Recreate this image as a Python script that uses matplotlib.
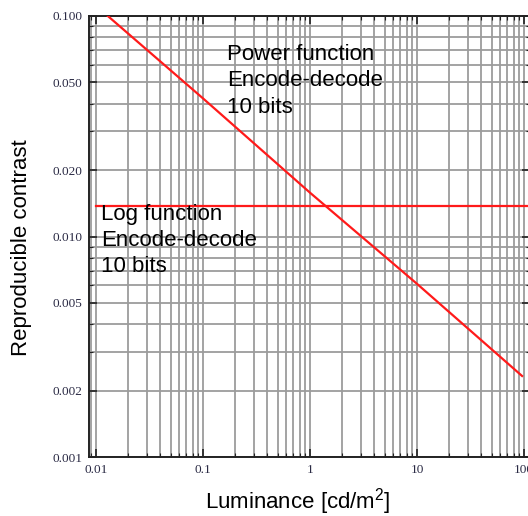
import matplotlib
matplotlib.use("Agg")
import matplotlib.pyplot as plt
from matplotlib.ticker import LogLocator, FixedLocator, NullFormatter

plt.rcParams["mathtext.fontset"] = "custom"
plt.rcParams["mathtext.rm"] = "Liberation Sans"

# reproducible contrast vs. luminance, 10-bit encode-decode
power_luminance = [0.0129, 0.1, 1.0, 10.0, 96.0]
power_contrast = [0.100, 0.0423, 0.0158, 0.0061, 0.00233]

log_luminance = [0.01, 120.0]
log_contrast = [0.0137, 0.0137]

x_ticks = [0.01, 0.1, 1, 10, 100]
x_ticklabels = ["0.01", "0.1", "1", "10", "100"]
y_ticks = [0.001, 0.002, 0.005, 0.01, 0.02, 0.05, 0.1]
y_ticklabels = ["0.001", "0.002", "0.005", "0.010", "0.020", "0.050", "0.100"]

W, H = 528, 516
fig = plt.figure(figsize=(W / 100, H / 100), dpi=100)
# axes run a little past the right edge of the figure
ax = fig.add_axes([89 / W, (H - 457) / H, (530 - 89) / W, (457 - 16) / H])

ax.set_xscale("log")
ax.set_yscale("log")
ax.set_xlim(0.0086, 113.8)
ax.set_ylim(0.001, 0.1)

grid_kw = dict(color="#9c9c9c", lw=1.3, zorder=1)
ax.xaxis.set_minor_locator(LogLocator(base=10, subs=range(2, 10)))
ax.yaxis.set_minor_locator(LogLocator(base=10, subs=range(2, 10)))
ax.grid(True, which="both", **grid_kw)

ax.xaxis.set_major_locator(FixedLocator(x_ticks))
ax.set_xticklabels(x_ticklabels)
ax.yaxis.set_major_locator(FixedLocator(y_ticks))
ax.set_yticklabels(y_ticklabels)
ax.xaxis.set_minor_formatter(NullFormatter())
ax.yaxis.set_minor_formatter(NullFormatter())

ax.tick_params(which="both", direction="in", top=True, right=True,
               color="#222222")
ax.tick_params(which="major", length=6, width=1.2)
ax.tick_params(which="minor", length=3, width=0.8)
for lab in ax.get_xticklabels() + ax.get_yticklabels():
    lab.set_family("Liberation Serif")
    lab.set_fontsize(9.5)
    lab.set_color("#2a2a44")
ax.tick_params(axis="y", pad=5)
ax.tick_params(axis="x", pad=5)

for s in ax.spines.values():
    s.set_linewidth(1.4)
    s.set_color("#222222")

ax.plot(power_luminance, power_contrast, color="#ff1a1a", lw=1.6, zorder=3)
ax.plot(log_luminance, log_contrast, color="#ff1a1a", lw=1.6, zorder=3)

txt_kw = dict(family="Liberation Sans", fontsize=16, color="black",
              va="top", ha="left", linespacing=1.33, zorder=4)
ax.text(0.168, 0.0746, "Power function\nEncode-decode\n10 bits", **txt_kw)
ax.text(0.0111, 0.0141, "Log function\nEncode-decode\n10 bits", **txt_kw)

fig.text(298 / W, 1 - 502 / H, r"Luminance [cd/m$\mathregular{^2}$]",
         family="Liberation Sans", fontsize=16, ha="center", va="center")
fig.text(22 / W, 1 - 248 / H, "Reproducible contrast", family="Liberation Sans",
         fontsize=16, ha="center", va="center", rotation=90)

fig.savefig("out.png", dpi=100)
